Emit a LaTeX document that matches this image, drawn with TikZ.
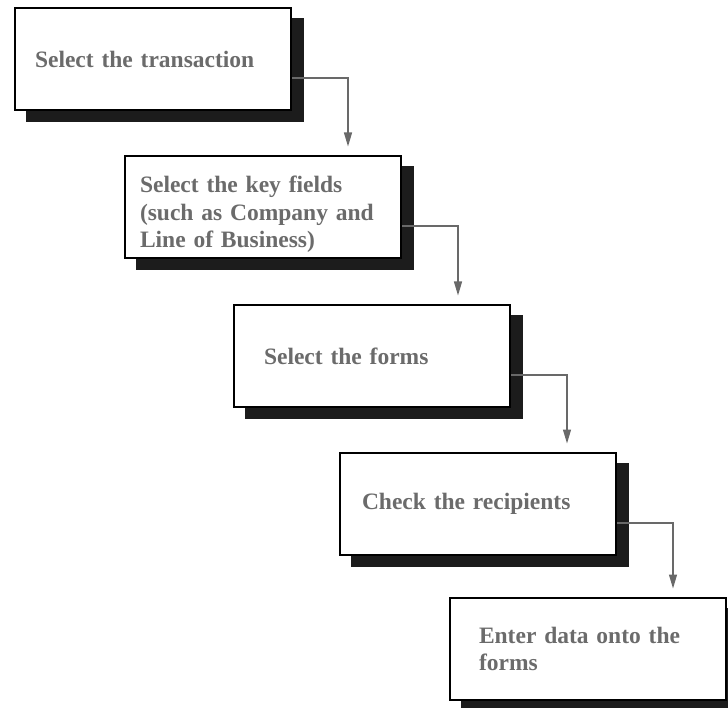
\documentclass[tikz,border=0pt]{standalone}
\usepackage{fontspec}
\setmainfont{Liberation Serif}
\usetikzlibrary{shadows,arrows.meta}
\definecolor{textgray}{HTML}{6B6B6B}
\definecolor{linegray}{HTML}{696969}
\definecolor{shadowblack}{HTML}{1C1C1C}

\begin{document}
\begin{tikzpicture}[x=1pt, y=-1pt,
      stepbox/.style={rectangle, draw=black, line width=2pt, fill=white,
        minimum width=276pt, minimum height=102pt, inner ysep=0pt,
        anchor=north west, align=left, text=textgray,
        font=\bfseries\fontsize{23.5}{27.5}\selectfont,
        drop shadow={shadow xshift=11.5pt, shadow yshift=-11pt, opacity=1,
          fill=shadowblack, draw=shadowblack, line width=2pt}},
      flow/.style={draw=linegray, line width=1.3pt,
        -{Triangle[length=14pt, width=8pt]}}]
  %.
  \useasboundingbox (0,0) rectangle (728,708);
  \node[stepbox, inner xsep=20pt, text width=236pt] (trans) at (14,7)
    {Select the transaction};
  \node[stepbox, inner xsep=15pt, text width=246pt, text height=32pt] (keys) at (124,155)
    {Select the key fields\\(such as Company and\\Line of Business)};
  \node[stepbox, inner xsep=30pt, text width=216pt] (forms) at (233,304)
    {Select the forms};
  \node[stepbox, inner xsep=22pt, text width=232pt] (recip) at (339,452)
    {Check the recipients};
  \node[stepbox, inner xsep=29pt, text width=218pt] (enter) at (449,597)
    {Enter data onto the\\forms};
  %.
  \draw[flow] ([yshift=-19pt]trans.east) -| ([xshift=56pt, yshift=8.5pt]trans.east |- keys.north);
  \draw[flow] ([yshift=-19pt]keys.east) -| ([xshift=56pt, yshift=8.5pt]keys.east |- forms.north);
  \draw[flow] ([yshift=-19pt]forms.east) -| ([xshift=56pt, yshift=8.5pt]forms.east |- recip.north);
  \draw[flow] ([yshift=-19pt]recip.east) -| ([xshift=56pt, yshift=8.5pt]recip.east |- enter.north);
  %.
\end{tikzpicture}
\end{document}
